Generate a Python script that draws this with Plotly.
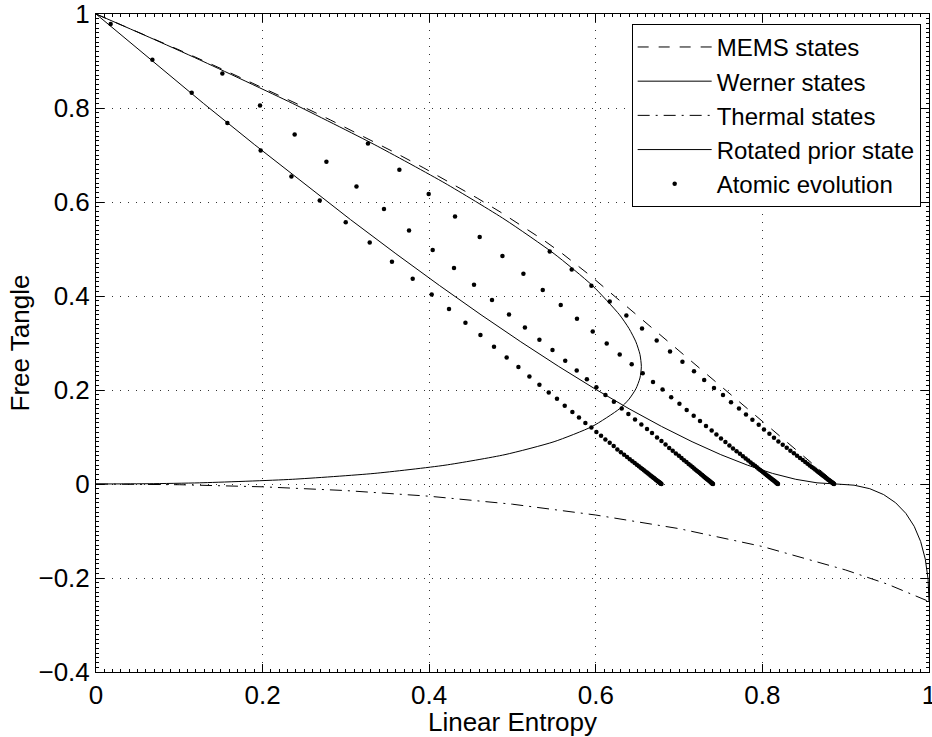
import plotly.graph_objects as go

# ---------------- data ----------------
# MEMS states (dashed)
mems_s = [0.0, 0.05227, 0.1024, 0.1504, 0.19627, 0.24, 0.2816, 0.32107, 0.3584, 0.3936,
          0.42667, 0.4576, 0.4864, 0.51307, 0.5376, 0.56, 0.58027, 0.59259, 0.8889]
mems_t = [1.0, 0.9604, 0.9216, 0.8836, 0.8464, 0.81, 0.7744, 0.7396, 0.7056, 0.6724,
          0.64, 0.6084, 0.5776, 0.5476, 0.5184, 0.49, 0.4624, 0.44444, 0.0]

# Werner states (solid)
werner_s = [0.0, 0.06556, 0.12889, 0.19, 0.24889, 0.30556, 0.36, 0.41222, 0.46222, 0.51,
            0.55556, 0.59889, 0.64, 0.67889, 0.71556, 0.75, 0.78222, 0.81222, 0.84, 0.86556,
            0.88889, 0.91, 0.92889, 0.94556, 0.96, 0.97222, 0.98222, 0.99, 0.99556, 0.99889, 1.0]
werner_t = [1.0, 0.9025, 0.81, 0.7225, 0.64, 0.5625, 0.49, 0.4225, 0.36, 0.3025,
            0.25, 0.2025, 0.16, 0.1225, 0.09, 0.0625, 0.04, 0.0225, 0.01, 0.0025,
            0.0, -0.0025, -0.01, -0.0225, -0.04, -0.0625, -0.09, -0.1225, -0.16, -0.2025, -0.25]

# Thermal states (dash-dot)
thermal_s = [0.0, 0.1, 0.2, 0.3, 0.4, 0.5, 0.6, 0.7, 0.8, 0.9, 0.95, 1.0]
thermal_t = [0.0, -0.0015, -0.006, -0.014, -0.026, -0.043, -0.066, -0.095, -0.133, -0.183, -0.213, -0.25]

# Rotated prior state (solid)
rotated_s = [0.0, 0.06383, 0.12439, 0.23568, 0.33388, 0.41899, 0.49101, 0.54993, 0.59575,
             0.62849, 0.63995, 0.64813, 0.65304, 0.65468, 0.65304, 0.64813, 0.63995, 0.62849,
             0.59575, 0.54993, 0.49101, 0.41899, 0.33388, 0.23568, 0.12439, 0.06383, 0.0]
rotated_t = [1.0, 0.950625, 0.9025, 0.81, 0.7225, 0.64, 0.5625, 0.49, 0.4225,
             0.36, 0.330625, 0.3025, 0.275625, 0.25, 0.225625, 0.2025, 0.180625, 0.16,
             0.1225, 0.09, 0.0625, 0.04, 0.0225, 0.01, 0.0025, 0.000625, 0.0]

# Atomic evolution: four trajectories of dots
traj_a_s = [0.0176, 0.0677, 0.1149, 0.1577, 0.1977, 0.2346, 0.2686, 0.2998, 0.3286, 0.3553,
            0.3802, 0.4030, 0.4238, 0.4435, 0.4615, 0.4778, 0.4930, 0.5071, 0.5203, 0.5323,
            0.5435, 0.5534, 0.5627, 0.5719, 0.5798, 0.5875, 0.5947, 0.6007, 0.6063, 0.6115,
            0.6167, 0.6215, 0.6259,
            0.6301, 0.6340, 0.6375, 0.6408, 0.6439, 0.6467, 0.6493, 0.6517, 0.6539, 0.6559,
            0.6578, 0.6596, 0.6613, 0.6628, 0.6643, 0.6657, 0.6669, 0.6681, 0.6691, 0.6702,
            0.6711, 0.6721, 0.6729, 0.6738, 0.6745, 0.6752, 0.6759, 0.6765, 0.6770, 0.6775,
            0.6779, 0.6784, 0.6788]
traj_a_t = [0.9787, 0.9028, 0.8326, 0.7681, 0.7098, 0.6545, 0.6034, 0.5570, 0.5138, 0.4730,
            0.4368, 0.4034, 0.3723, 0.3432, 0.3170, 0.2921, 0.2694, 0.2489, 0.2289, 0.2113,
            0.1949, 0.1815, 0.1666, 0.1532, 0.1415, 0.1298, 0.1202, 0.1106, 0.1028, 0.0949,
            0.0879, 0.0809, 0.0736,
            0.0678, 0.0624, 0.0574, 0.0529, 0.0486, 0.0447, 0.0410, 0.0377, 0.0346, 0.0318,
            0.0292, 0.0267, 0.0244, 0.0222, 0.0202, 0.0183, 0.0165, 0.0149, 0.0134, 0.0120,
            0.0107, 0.0093, 0.0082, 0.0070, 0.0060, 0.0050, 0.0041, 0.0032, 0.0025, 0.0018,
            0.0012, 0.0006, 0.0]

traj_b_s = [0.1517, 0.1969, 0.2385, 0.2766, 0.3127, 0.3457, 0.3758, 0.4042, 0.4298, 0.4538,
            0.4754, 0.4958, 0.5149, 0.5323, 0.5480, 0.5633, 0.5771, 0.5893, 0.6007, 0.6116,
            0.6217, 0.6311, 0.6391, 0.6471, 0.6547, 0.6615, 0.6675, 0.6735, 0.6788, 0.6837,
            0.6881,
            0.6923, 0.6961, 0.6997, 0.7029, 0.7059, 0.7088, 0.7114, 0.7138, 0.7160, 0.7180,
            0.7198, 0.7216, 0.7233, 0.7248, 0.7263, 0.7277, 0.7289, 0.7300, 0.7311, 0.7321,
            0.7331, 0.7340, 0.7349, 0.7357, 0.7364, 0.7371, 0.7378, 0.7384, 0.7389, 0.7394,
            0.7398, 0.7403, 0.7407]
traj_b_t = [0.8736, 0.8055, 0.7438, 0.6857, 0.6332, 0.5851, 0.5396, 0.4979, 0.4596, 0.4240,
            0.3915, 0.3609, 0.3332, 0.3070, 0.2851, 0.2623, 0.2417, 0.2230, 0.2060, 0.1896,
            0.1751, 0.1609, 0.1491, 0.1374, 0.1268, 0.1172, 0.1085, 0.0991, 0.0917, 0.0840,
            0.0768,
            0.0707, 0.0651, 0.0599, 0.0552, 0.0507, 0.0466, 0.0428, 0.0393, 0.0361, 0.0332,
            0.0305, 0.0279, 0.0254, 0.0232, 0.0210, 0.0190, 0.0172, 0.0155, 0.0140, 0.0125,
            0.0111, 0.0098, 0.0085, 0.0073, 0.0062, 0.0052, 0.0043, 0.0034, 0.0026, 0.0018,
            0.0012, 0.0006, 0.0]

traj_c_s = [0.3265, 0.3642, 0.3994, 0.4310, 0.4606, 0.4879, 0.5131, 0.5363, 0.5579, 0.5774,
            0.5963, 0.6131, 0.6287, 0.6431, 0.6563, 0.6687, 0.6801, 0.6905, 0.7004, 0.7091,
            0.7175, 0.7251, 0.7323, 0.7391, 0.7448, 0.7503, 0.7556, 0.7604, 0.7647,
            0.7690, 0.7730, 0.7766, 0.7799, 0.7830, 0.7859, 0.7886, 0.7911, 0.7933, 0.7953,
            0.7973, 0.7991, 0.8008, 0.8024, 0.8039, 0.8053, 0.8066, 0.8078, 0.8088, 0.8099,
            0.8109, 0.8118, 0.8127, 0.8136, 0.8143, 0.8151, 0.8157, 0.8163, 0.8169, 0.8174,
            0.8178, 0.8183, 0.8187]
traj_c_t = [0.7247, 0.6687, 0.6170, 0.5694, 0.5255, 0.4851, 0.4474, 0.4128, 0.3809, 0.3517,
            0.3247, 0.2991, 0.2757, 0.2549, 0.2357, 0.2170, 0.2011, 0.1847, 0.1709, 0.1574,
            0.1453, 0.1340, 0.1234, 0.1140, 0.1055, 0.0970, 0.0894, 0.0821, 0.0757,
            0.0697, 0.0641, 0.0590, 0.0544, 0.0500, 0.0460, 0.0422, 0.0388, 0.0356, 0.0327,
            0.0300, 0.0275, 0.0251, 0.0228, 0.0207, 0.0188, 0.0170, 0.0153, 0.0138, 0.0123,
            0.0110, 0.0096, 0.0084, 0.0072, 0.0062, 0.0051, 0.0042, 0.0033, 0.0026, 0.0018,
            0.0012, 0.0006, 0.0]

traj_d_s = [0.5447, 0.5711, 0.5947, 0.6167, 0.6367, 0.6555, 0.6731, 0.6891, 0.7040, 0.7179,
            0.7301, 0.7419, 0.7527, 0.7623, 0.7719, 0.7803, 0.7880, 0.7956, 0.8019, 0.8084,
            0.8139, 0.8192, 0.8244, 0.8292, 0.8336,
            0.8378, 0.8416, 0.8451, 0.8484, 0.8514, 0.8542, 0.8568, 0.8592, 0.8614, 0.8633,
            0.8652, 0.8670, 0.8686, 0.8702, 0.8717, 0.8730, 0.8743, 0.8754, 0.8764, 0.8775,
            0.8784, 0.8793, 0.8802, 0.8810, 0.8817, 0.8825, 0.8831, 0.8837, 0.8842, 0.8848,
            0.8852, 0.8856, 0.8860]
traj_d_t = [0.4949, 0.4566, 0.4219, 0.3885, 0.3587, 0.3311, 0.3055, 0.2821, 0.2602, 0.2400,
            0.2215, 0.2045, 0.1894, 0.1740, 0.1609, 0.1481, 0.1368, 0.1262, 0.1162, 0.1070,
            0.0985, 0.0906, 0.0836, 0.0772, 0.0709,
            0.0653, 0.0601, 0.0553, 0.0509, 0.0468, 0.0430, 0.0395, 0.0363, 0.0333, 0.0307,
            0.0281, 0.0257, 0.0235, 0.0214, 0.0194, 0.0176, 0.0159, 0.0144, 0.0129, 0.0115,
            0.0103, 0.0090, 0.0079, 0.0067, 0.0058, 0.0048, 0.0039, 0.0031, 0.0024, 0.0017,
            0.0011, 0.0006, 0.0]

x_ticks = [0, 0.2, 0.4, 0.6, 0.8, 1]
x_tick_labels = ["0", "0.2", "0.4", "0.6", "0.8", "1"]
y_ticks = [-0.4, -0.2, 0, 0.2, 0.4, 0.6, 0.8, 1]
y_tick_labels = ["\u22120.4", "\u22120.2", "0", "0.2", "0.4", "0.6", "0.8", "1"]

series_names = ["MEMS states", "Werner states", "Thermal states",
                "Rotated prior state", "Atomic evolution"]

# ---------------- figure ----------------
FONT = "Liberation Sans, Arial, Helvetica, sans-serif"
fig = go.Figure()

fig.add_trace(go.Scatter(x=mems_s, y=mems_t, mode="lines", name=series_names[0],
                         line=dict(color="black", width=1, dash="11px,10px")))
fig.add_trace(go.Scatter(x=werner_s, y=werner_t, mode="lines", name=series_names[1],
                         line=dict(color="black", width=1)))
fig.add_trace(go.Scatter(x=thermal_s, y=thermal_t, mode="lines", name=series_names[2],
                         line=dict(color="black", width=1, dash="12px,6px,2px,6px")))
fig.add_trace(go.Scatter(x=rotated_s, y=rotated_t, mode="lines", name=series_names[3],
                         line=dict(color="black", width=1, shape="spline", smoothing=0.6)))

trajs = [(traj_a_s, traj_a_t), (traj_b_s, traj_b_t), (traj_c_s, traj_c_t), (traj_d_s, traj_d_t)]
for i, (xs, ys) in enumerate(trajs):
    fig.add_trace(go.Scatter(x=xs, y=ys, mode="markers", name=series_names[4],
                             legendgroup="atomic", showlegend=(i == 0),
                             marker=dict(color="black", size=4.5, line=dict(width=0))))

axis_common = dict(
    showline=True, linecolor="black", linewidth=1, mirror="allticks",
    ticks="inside", ticklen=8, tickcolor="black", tickwidth=1,
    showgrid=True, gridcolor="#333333", gridwidth=1, griddash="1px,7px",
    zeroline=False, ticklabeloverflow="allow",
    tickfont=dict(family=FONT, size=26, color="black"),
    minor=dict(ticks="inside", ticklen=3, dtick=0.01, tickcolor="black", showgrid=False),
)

fig.update_xaxes(range=[0, 1], tickvals=x_ticks, ticktext=x_tick_labels,
                 title=dict(text="Linear Entropy", font=dict(family=FONT, size=26, color="black"),
                            standoff=4),
                 **axis_common)
fig.update_yaxes(range=[-0.4, 1], tickvals=y_ticks, ticktext=y_tick_labels,
                 title=dict(text="Free Tangle", font=dict(family=FONT, size=26, color="black"),
                            standoff=1),
                 **axis_common)

fig.update_layout(
    width=932, height=737,
    margin=dict(l=96, r=3, t=14, b=65, autoexpand=False),
    paper_bgcolor="white", plot_bgcolor="white",
    font=dict(family=FONT, color="black"),
    showlegend=True,
    legend=dict(x=0.99, y=0.985, xanchor="right", yanchor="top",
                bgcolor="white", bordercolor="black", borderwidth=1,
                font=dict(family=FONT, size=24, color="black"),
                itemwidth=74, tracegroupgap=0),
)

fig.write_html("out.html")
